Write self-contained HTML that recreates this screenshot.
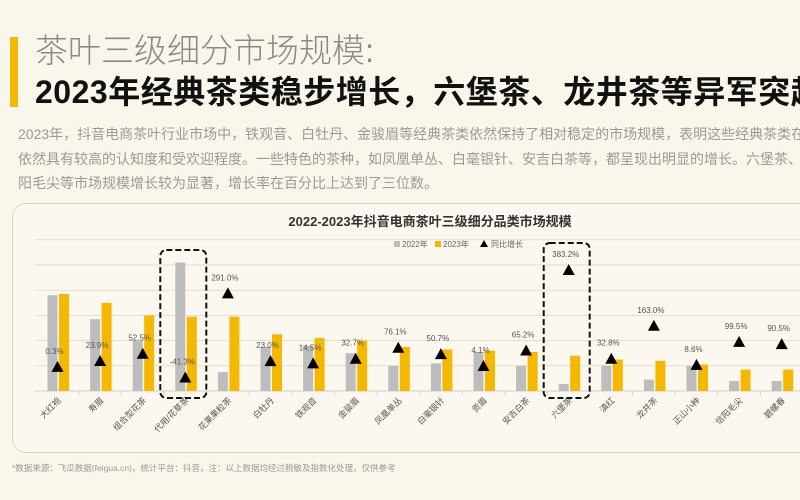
<!DOCTYPE html>
<html><head><meta charset="utf-8">
<style>
body{margin:0;width:800px;height:500px;overflow:hidden;background:#fbf6ec;font-family:"Liberation Sans","Noto Sans CJK SC",sans-serif}
#wrap{position:relative;width:800px;height:500px;overflow:hidden}
.bar{position:absolute;left:10px;top:37px;width:8px;height:70px;background:#f5b800}
.t1{position:absolute;left:35px;top:32px;font-size:33px;color:#8a8a8a;font-weight:300;white-space:nowrap;line-height:38px}
.t2{position:absolute;left:35px;top:72px;font-size:32px;color:#111;font-weight:700;white-space:nowrap;line-height:40px;letter-spacing:0.5px}
.p{position:absolute;left:18px;top:122px;font-size:14px;color:#9a9a9a;line-height:24.5px;white-space:nowrap}
.card{position:absolute;left:12px;top:203px;width:820px;height:248px;border:1px solid #ddd6c8;border-radius:14px;background:#fcf8f0}
.foot{position:absolute;left:12px;top:462px;font-size:8.5px;color:#999;white-space:nowrap}
svg{position:absolute;left:0;top:0}
</style></head><body>
<div id="wrap">
<div class="bar"></div>
<div class="t1">茶叶三级细分市场规模:</div>
<div class="t2">2023年经典茶类稳步增长，六堡茶、龙井茶等异军突起</div>
<div class="p">2023年，抖音电商茶叶行业市场中，铁观音、白牡丹、金骏眉等经典茶类依然保持了相对稳定的市场规模，表明这些经典茶类在消费者中<br>依然具有较高的认知度和受欢迎程度。一些特色的茶种，如凤凰单丛、白毫银针、安吉白茶等，都呈现出明显的增长。六堡茶、龙井茶、信<br>阳毛尖等市场规模增长较为显著，增长率在百分比上达到了三位数。</div>
<div class="card"></div>
<div class="foot">*数据来源：飞瓜数据(feigua.cn)，统计平台：抖音，注：以上数据均经过脱敏及指数化处理，仅供参考</div>
<svg id="chart" width="800" height="500"></svg>
</div>
<script>
const categories=["大红袍","寿眉","组合型花茶","代用/花草茶","花果果粒茶","白牡丹","铁观音","金骏眉","凤凰单丛","白毫银针","贡眉","安吉白茶","六堡茶","滇红","龙井茶","正山小种","信阳毛尖","碧螺春","蒙顶甘露"];
const values2022=[3.8,2.85,2.0,5.1,0.75,1.75,1.8,1.5,1.0,1.1,1.55,1.0,0.28,1.0,0.45,1.0,0.4,0.4,0.4];
const values2023=[3.85,3.5,3.0,2.95,2.95,2.25,2.1,2.0,1.75,1.65,1.6,1.55,1.4,1.25,1.2,1.05,0.85,0.85,0.85];
const growth=[0.3,23.9,52.5,-41.3,291.0,23.0,14.5,32.7,76.1,50.7,4.1,65.2,383.2,32.8,163.0,8.6,99.5,90.5,80.0];
const growthLabels=["0.3%","23.9%","52.5%","-41.3%","291.0%","23.0%","14.5%","32.7%","76.1%","50.7%","4.1%","65.2%","383.2%","32.8%","163.0%","8.6%","99.5%","90.5%",""];
const gridTicks=[0,1,2,3,4,5,6];
const highlighted=[3,12];

const svg=document.getElementById('chart');
const NS='http://www.w3.org/2000/svg';
const base=391, unit=25.2, x0=57.5, step=42.6;
const yL=v=>base-v*unit;
const yR=g=>367-g*0.253;
const xC=i=>x0+i*step;
function mk(t,a,p){const e=document.createElementNS(NS,t);for(const k in a)e.setAttribute(k,a[k]);(p||svg).appendChild(e);return e;}

let t=mk('text',{x:430,y:226,'text-anchor':'middle','font-size':'13','font-weight':'700',fill:'#333'});


t.textContent='2022-2023年抖音电商茶叶三级细分品类市场规模';

const lg=mk('g',{});


mk('rect',{x:394,y:241,width:6,height:6,fill:'#bdbdbd'},lg);
let lt=mk('text',{x:402,y:247,'font-size':'8',fill:'#666'},lg);lt.textContent='2022年';
mk('rect',{x:435,y:241,width:6,height:6,fill:'#f5b800'},lg);
lt=mk('text',{x:443,y:247,'font-size':'8',fill:'#666'},lg);lt.textContent='2023年';
mk('path',{d:'M480 247 L484 240 L488 247 Z',fill:'#000'},lg);
lt=mk('text',{x:491,y:247,'font-size':'8',fill:'#666'},lg);lt.textContent='同比增长';

gridTicks.forEach(v=>{
  const l=mk('line',{x1:35,x2:800,y1:yL(v),y2:yL(v),stroke:v===0?'#cfcfcf':'#e2ddd2','stroke-width':1});
  
  
});

categories.forEach((c,i)=>{
  const x=xC(i);
  mk('line',{x1:x+step/2,x2:x+step/2,y1:base,y2:base+4,stroke:'#cfcfcf'});
  const b1=mk('rect',{x:x-10,y:yL(values2022[i]),width:10,height:values2022[i]*unit,fill:'#bdbdbd'});
  
  
  const b2=mk('rect',{x:x+1.5,y:yL(values2023[i]),width:10,height:values2023[i]*unit,fill:'#f5b800'});
  
  
  const ty=yR(growth[i]);
  const tri=mk('path',{d:`M${x-6} ${ty+5} L${x} ${ty-6} L${x+6} ${ty+5} Z`,fill:'#000'});
  
  
  if(growthLabels[i]){
    const gl=mk('text',{x:x-3,y:ty-13,'text-anchor':'middle','font-size':'8',fill:'#555'});
    
    
    gl.textContent=growthLabels[i];
  }
  const cl=mk('text',{x:x+4,y:base+10,'text-anchor':'end','font-size':'8.5',fill:'#555',transform:`rotate(-45 ${x+4} ${base+10})`});
  
  
  cl.textContent=c;
});

highlighted.forEach(i=>{
  const x=xC(i);
  const top=i===12?243:250;
  const r=mk('rect',{x:x-25,y:top,width:46,height:398-top,rx:6,fill:'none',stroke:'#111','stroke-width':2,'stroke-dasharray':'6 3'});
  
  
});
</script>
</body></html>
